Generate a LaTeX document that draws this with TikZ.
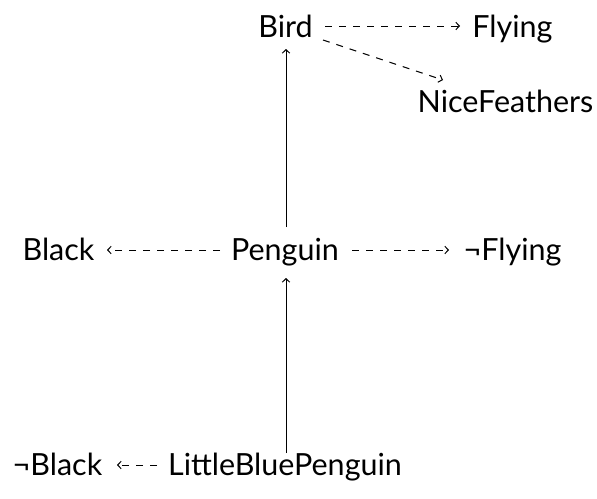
\documentclass[tikz,border=0pt]{standalone}
\usepackage{fontspec}
\setmainfont{Lato}
\usetikzlibrary{arrows.meta}
\begin{document}
\begin{tikzpicture}[x=1pt,y=-1pt,
  lbl/.style={inner sep=0pt, anchor=base, font=\fontsize{30.5}{36}\selectfont},
  impl/.style={line width=1pt, -{Straight Barb[length=3.5pt,width=7.5pt]}},
  dflt/.style={line width=1pt, dash pattern=on 7pt off 7pt, -{Straight Barb[length=3.5pt,width=7.5pt]}}]
\useasboundingbox (0,0) rectangle (597,498);
\node[lbl] (bird) at (285.5,37) {Bird};
\node[lbl] (fly) at (512.5,37) {Flying};
\node[lbl] (nice) at (505.5,112) {NiceFeathers};
\node[lbl] (black) at (58.5,260) {Black};
\node[lbl] (peng) at (285,260) {Penguin};
\node[lbl] (nfly) at (512.5,260) {¬Flying};
\node[lbl] (nblack) at (57.5,475) {¬Black};
\node[lbl] (lbp) at (285,475) {LittleBluePenguin};
\coordinate (b1) at (325,26); \coordinate (f1) at (460,26);
\draw[dflt] (b1) -- (f1);
\coordinate (b2) at (323,40); \coordinate (n2) at (443,80);
\draw[dflt] (b2) -- (n2);
\coordinate (p1) at (286,227); \coordinate (bb) at (286,49);
\draw[impl] (p1) -- (bb);
\coordinate (p2) at (220,250); \coordinate (k2) at (107,250);
\draw[dflt] (p2) -- (k2);
\coordinate (p3) at (352,250); \coordinate (nf3) at (449,250);
\draw[dflt] (p3) -- (nf3);
\coordinate (l1) at (286,453); \coordinate (pp) at (286,278);
\draw[impl] (l1) -- (pp);
\coordinate (l2) at (157,465); \coordinate (nb2) at (117,465);
\draw[dflt] (l2) -- (nb2);
\end{tikzpicture}
\end{document}
